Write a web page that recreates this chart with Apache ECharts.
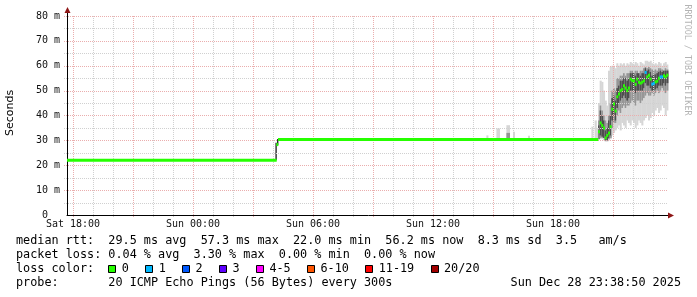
<!DOCTYPE html>
<html><head><meta charset="utf-8">
<script src="https://cdn.jsdelivr.net/npm/echarts@6/dist/echarts.min.js"></script>
<style>html,body{margin:0;padding:0;background:#fff}#c{width:697px;height:297px}</style>
</head><body><div id="c"></div>
<script>
// ---------- data ----------
// time axis in hours since Sat 00:00
const xMinH = 17.7, xMaxH = 47.85, dataEndH = 47.75;
const xTickHours = [18, 24, 30, 36, 42];
const xTickLabels = ['Sat 18:00', 'Sun 00:00', 'Sun 06:00', 'Sun 12:00', 'Sun 18:00'];
const yTickValues = [0, 10, 20, 30, 40, 50, 60, 70, 80];
const yTickLabels = [' 0  ', '10 m', '20 m', '30 m', '40 m', '50 m', '60 m', '70 m', '80 m'];
const gridMajorX = [18, 21, 24, 27, 30, 33, 36, 39, 42, 45];
const gridMinorX = [19, 20, 22, 23, 25, 26, 28, 29, 31, 32, 34, 35, 37, 38, 40, 41, 43, 44, 46, 47];
const gridMajorY = [10, 20, 30, 40, 50, 60, 70, 80];
const gridMinorY = [5, 15, 25, 35, 45, 55, 65, 75];

// median runs: [startH, endH, median ms, loss index]
const medianRuns = [[17.7, 28.17, 22.0, 0], [28.17, 28.25, 28.3, 0], [28.25, 44.25, 30.3, 0]];

// last section, 5-minute steps starting at Sun 20:15
const stepStartH = 44.25;
const stepH = 1 / 12;
const median = [33.5, 37.0, 36.0, 35.0, 31.0, 32.0, 33.0, 35.5, 42.5, 44.6, 41.8, 47.5, 48.6, 50.0, 50.5, 52.0, 51.0, 50.0, 51.0, 54.6, 54.0, 54.0, 52.5, 54.6, 53.4, 53.0, 53.4, 54.0, 57.3, 55.5, 56.2, 54.6, 52.6, 53.0, 53.5, 53.8, 55.0, 55.5, 55.5, 56.0, 55.5, 56.2];
const lossIdx = [0,0,0,0,0,0,0,0,0,0,0,0,0,0,0,0,0,0,0,0,0,0,0,0,0,0,0,0,1,0,0,0,1,1,0,0,0,1,1,0,0,0];
const outerHi = [45, 54, 53.5, 50, 46, 44, 58, 59.5, 60, 60, 59, 61, 60, 61, 60.5, 61, 60, 61, 60.5, 61.5, 61, 60.5, 61.5, 61, 60, 61.5, 61, 60.5, 62, 62, 61.5, 62, 61, 60.5, 61, 60.5, 61.5, 61, 60, 61, 61.5, 60.5];
const outerLo = [30.5, 30.5, 30.5, 30, 29.5, 29.5, 30, 30.5, 32, 33, 34, 35, 36, 34, 37, 36, 35, 38, 37, 36, 38, 37, 35, 36, 38, 37, 36, 38, 39, 40, 38, 39, 41, 40, 42, 43, 41, 42, 44, 43, 40, 42];
const midHi = [38, 44, 42, 40, 38, 37, 40, 45, 50, 51, 50, 55, 55, 56, 56, 57, 56, 57, 57, 58, 58, 57, 58, 58, 57, 58, 58, 59, 59.5, 59, 59.5, 59, 58.5, 58, 58.5, 58, 59, 59, 58.5, 58, 59, 58.5];
const midLo = [30.5, 31, 31, 31, 30, 30, 30.5, 31, 35, 37, 37, 40, 42, 41, 43, 44, 43, 44, 44, 45, 46, 45, 44, 46, 46, 45, 46, 47, 48, 49, 48, 48, 49, 48, 49, 50, 49, 50, 51, 50, 49, 50];
const innerHi = [36, 42, 40, 38, 34, 35, 38, 40, 47, 48, 46, 51, 52, 54, 54, 55, 55, 54, 55, 57, 57, 57, 56, 57, 57, 56, 57, 57, 59, 58, 58.5, 57.5, 56, 56.5, 56.5, 57, 57.5, 58, 57.5, 58, 58, 58];
const innerLo = [30.5, 32, 31.5, 31, 30, 30, 31, 32, 38, 40, 38, 43, 45, 46, 47, 48, 47, 46, 47, 50, 50, 50, 49, 50, 50, 50, 50, 51, 53, 52, 52, 51, 50, 50, 50.5, 51, 52, 52, 52, 53, 52, 53];

// isolated smoke: [startH, endH, lo, hi, shade level]
const smokeSpikes = [
  [28.12, 28.17, 22.0, 29.0, 3], [28.2, 28.25, 28.0, 30.5, 3],
  [38.67, 38.75, 30.5, 32.0, 0], [39.17, 39.33, 30.5, 34.8, 0],
  [39.67, 39.83, 30.5, 36.1, 0], [39.67, 39.83, 30.5, 33.0, 1],
  [40.0, 40.08, 30.5, 33.5, 0], [40.75, 40.83, 30.5, 31.9, 0],
  [43.92, 44.0, 30.5, 35.5, 0], [44.08, 44.17, 30.5, 38.0, 0], [44.17, 44.25, 30.5, 35.0, 0]
];

const lossColors = ['#26ff00', '#00b8ff', '#0059ff', '#5e00ff', '#ff00ff', '#ff5500', '#ff0000', '#a10000'];
const lossLabels = ['0', '1', '2', '3', '4-5', '6-10', '11-19', '20/20'];
const statLines = [
  'median rtt:  29.5 ms avg  57.3 ms max  22.0 ms min  56.2 ms now  8.3 ms sd  3.5   am/s',
  'packet loss: 0.04 % avg  3.30 % max  0.00 % min  0.00 % now',
  'loss color:',
  'probe:       20 ICMP Echo Pings (56 Bytes) every 300s'
];
const stampText = 'Sun Dec 28 23:38:50 2025';
const yTitle = 'Seconds';
const watermark = 'RRDTOOL / TOBI OETIKER';

// ---------- build items ----------
const smokeShades = ['#d6d6d6', '#969696', '#4e4e4e', '#2a2a2a'];
const smokeItems = [];
for (let i = 0; i < median.length; i++) {
  const t0 = stepStartH + i * stepH, t1 = t0 + stepH;
  smokeItems.push([t0, t1, outerLo[i], outerHi[i], 0]);
  smokeItems.push([t0, t1, midLo[i], midHi[i], 1]);
  smokeItems.push([t0, t1, innerLo[i], innerHi[i], 2]);
}
smokeSpikes.forEach(s => smokeItems.push(s));

const medianItems = medianRuns.map(r => r.slice());
for (let i = 0; i < median.length; i++) {
  const t0 = stepStartH + i * stepH;
  medianItems.push([t0, t0 + stepH, median[i], lossIdx[i]]);
}

const gridItems = [];
gridMajorX.forEach(v => gridItems.push([0, v, 1]));
gridMinorX.forEach(v => gridItems.push([0, v, 0]));
gridMajorY.forEach(v => gridItems.push([1, v, 1]));
gridMinorY.forEach(v => gridItems.push([1, v, 0]));

const MONO = 'DejaVu Sans Mono';

function renderGrid(params, api) {
  const kind = api.value(0), v = api.value(1), major = api.value(2);
  let shape;
  if (kind === 0) {
    const a = api.coord([v, 0]), b = api.coord([v, 80]);
    const x = Math.round(a[0]) + 0.5;
    shape = { x1: x, y1: a[1] + 2, x2: x, y2: Math.round(b[1]) };
  } else {
    const a = api.coord([xMinH, v]), b = api.coord([dataEndH, v]);
    const y = Math.round(a[1]) + 0.5;
    shape = { x1: a[0] - 3, y1: y, x2: b[0], y2: y };
  }
  return { type: 'line', shape: shape, style: { stroke: major ? '#eaaeae' : '#d0d0d0', lineWidth: 1, lineDash: [1, 1] } };
}
function renderSmoke(params, api) {
  const a = api.coord([api.value(0), api.value(3)]);
  const b = api.coord([api.value(1), api.value(2)]);
  return { type: 'rect', shape: { x: a[0], y: a[1], width: b[0] - a[0] + 0.4, height: b[1] - a[1] },
    style: { fill: smokeShades[api.value(4)] } };
}
function renderMedian(params, api) {
  const a = api.coord([api.value(0), api.value(2)]);
  const b = api.coord([api.value(1), api.value(2)]);
  return { type: 'rect', shape: { x: a[0], y: a[1] - 1.5, width: b[0] - a[0] + 0.3, height: 3 },
    style: { fill: lossColors[api.value(3)] } };
}

const chart = echarts.init(document.getElementById('c'), null, { renderer: 'canvas', width: 697, height: 297 });

// legend / text graphics
const graphics = [];
const lineY = [241, 255, 269, 283];
statLines.forEach((s, i) => graphics.push({ type: 'text', x: 16, y: lineY[i],
  style: { text: s, font: '11.8px "' + MONO + '"', fill: '#000', textAlign: 'left', textVerticalAlign: 'middle' } }));
let bx = 108.3;
lossLabels.forEach((lab, i) => {
  graphics.push({ type: 'rect', shape: { x: Math.round(bx) + 0.5, y: 265.5, width: 7, height: 7 },
    style: { fill: lossColors[i], stroke: '#000', lineWidth: 1 } });
  graphics.push({ type: 'text', x: bx + 13.5, y: lineY[2],
    style: { text: lab, font: '11.8px "' + MONO + '"', fill: '#000', textAlign: 'left', textVerticalAlign: 'middle' } });
  bx += 13.5 + lab.length * 7.1 + 16.3;
});
graphics.push({ type: 'text', x: 681, y: lineY[3],
  style: { text: stampText, font: '11.8px "' + MONO + '"', fill: '#000', textAlign: 'right', textVerticalAlign: 'middle' } });
graphics.push({ type: 'text', x: 10, y: 113, rotation: Math.PI / 2,
  style: { text: yTitle, font: '11px "DejaVu Sans"', fill: '#000', textAlign: 'center', textVerticalAlign: 'middle' } });
graphics.push({ type: 'text', x: 687, y: 60, rotation: -Math.PI / 2,
  style: { text: watermark, font: '8.4px "' + MONO + '"', fill: '#b4b4b4', textAlign: 'center', textVerticalAlign: 'middle' } });

chart.setOption({
  animation: false,
  backgroundColor: '#ffffff',
  grid: { left: 67, right: 27, top: 11, bottom: 82, show: false },
  xAxis: {
    type: 'value', min: xMinH, max: xMaxH,
    axisLine: { show: true, onZero: false, lineStyle: { color: '#000', width: 1 } },
    axisTick: { show: false },
    splitLine: { show: false },
    axisLabel: {
      customValues: xTickHours, margin: 4,
      formatter: v => { const k = xTickHours.indexOf(v); return k >= 0 ? xTickLabels[k] : ''; },
      fontFamily: MONO, fontSize: 10, color: '#111'
    }
  },
  yAxis: {
    type: 'value', min: 0, max: 82,
    axisLine: { show: true, onZero: false, lineStyle: { color: '#000', width: 1 } },
    axisTick: { show: false },
    splitLine: { show: false },
    axisLabel: {
      customValues: yTickValues, margin: 7,
      formatter: v => { const k = yTickValues.indexOf(v); return k >= 0 ? yTickLabels[k] : ''; },
      fontFamily: MONO, fontSize: 10, color: '#111'
    }
  },
  series: [
    { type: 'custom', name: 'smoke', z: 2, silent: true, clip: false, renderItem: renderSmoke, data: smokeItems },
    { type: 'custom', name: 'grid', z: 3, silent: true, clip: false, renderItem: renderGrid, data: gridItems },
    { type: 'custom', name: 'median', z: 4, silent: true, clip: false, renderItem: renderMedian, data: medianItems }
  ],
  graphic: graphics
});

// axis arrows at the ends of the library's axes
const o = chart.convertToPixel({ gridIndex: 0 }, [xMinH, 0]);
const e = chart.convertToPixel({ gridIndex: 0 }, [xMaxH, 82]);
const ox = Math.round(o[0]) + 0.5, oy = Math.round(o[1]) + 0.5;
graphics.push({ type: 'polygon', shape: { points: [[e[0] - 2, oy - 3], [e[0] + 4, oy], [e[0] - 2, oy + 3]] }, style: { fill: '#8e1616' }, z: 10 });
graphics.push({ type: 'polygon', shape: { points: [[ox - 3, e[1] + 2], [ox, e[1] - 4], [ox + 3, e[1] + 2]] }, style: { fill: '#8e1616' }, z: 10 });
chart.setOption({ graphic: graphics });
</script>
</body></html>
